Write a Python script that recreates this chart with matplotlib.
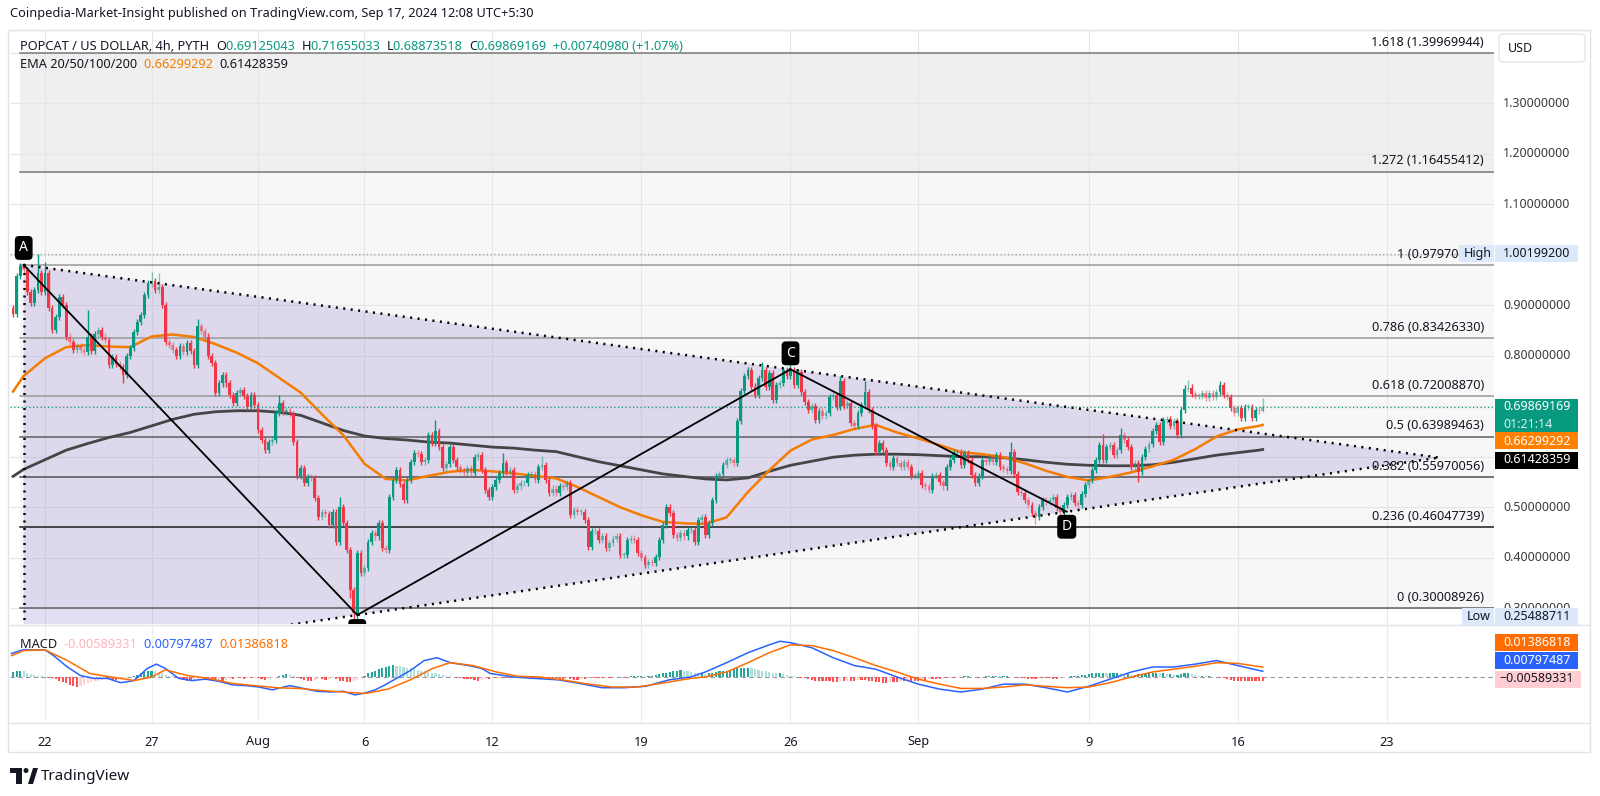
import matplotlib
matplotlib.use("Agg")
import matplotlib.pyplot as plt
import numpy as np
from matplotlib.patches import Rectangle, FancyBboxPatch, Polygon, Ellipse

plt.rcParams['font.family'] = ['Noto Sans', 'DejaVu Sans']

# ---------------- data ----------------
# 4h candles, time in days counted from Jul 22 00:00
candle_start_day = -1.5
first_open = 0.895
closes = [
    0.882, 0.957, 0.978, 0.970, 0.927, 0.904, 0.930, 0.963, 0.927,   # Jul 20-21
    0.963, 0.894, 0.851, 0.877, 0.917, 0.901,   # Jul 22
    0.838, 0.828, 0.811, 0.820, 0.812, 0.808,
    0.838, 0.810, 0.843, 0.851, 0.838, 0.832,
    0.782, 0.798, 0.784, 0.778, 0.762, 0.800,
    0.815, 0.847, 0.867, 0.880, 0.920, 0.943,
    0.947, 0.930, 0.936, 0.900, 0.828, 0.821,   # Jul 27
    0.812, 0.800, 0.820, 0.808, 0.825, 0.810,
    0.782, 0.858, 0.848, 0.838, 0.800, 0.785,
    0.726, 0.745, 0.762, 0.745, 0.722, 0.706,
    0.726, 0.732, 0.720, 0.699, 0.722, 0.702,
    0.653, 0.633, 0.613, 0.630, 0.634, 0.686,   # Aug 1
    0.706, 0.688, 0.693, 0.685, 0.630, 0.561,
    0.577, 0.547, 0.560, 0.557, 0.518, 0.481,
    0.490, 0.487, 0.465, 0.491, 0.432, 0.500,
    0.468, 0.416, 0.336, 0.290, 0.410, 0.369,
    0.380, 0.432, 0.448, 0.442, 0.468, 0.420,   # Aug 6
    0.415, 0.521, 0.554, 0.574, 0.546, 0.515,
    0.554, 0.590, 0.607, 0.605, 0.590, 0.594,
    0.643, 0.627, 0.650, 0.620, 0.577, 0.585,
    0.620, 0.594, 0.580, 0.574, 0.567, 0.577,
    0.567, 0.600, 0.603, 0.574, 0.534, 0.521,
    0.540, 0.554, 0.567, 0.587, 0.570, 0.574,   # Aug 12
    0.534, 0.541, 0.547, 0.548, 0.564, 0.565,
    0.554, 0.580, 0.584, 0.554, 0.528, 0.537,
    0.528, 0.541, 0.540, 0.547, 0.485, 0.494,
    0.491, 0.491, 0.475, 0.422, 0.452, 0.452,
    0.435, 0.442, 0.419, 0.429, 0.438, 0.442,
    0.405, 0.405, 0.435, 0.438, 0.435, 0.409,
    0.399, 0.386, 0.392, 0.389, 0.402, 0.435,   # Aug 19
    0.465, 0.500, 0.488, 0.445, 0.439, 0.448,
    0.442, 0.455, 0.455, 0.432, 0.475, 0.481,
    0.445, 0.468, 0.514, 0.561, 0.565, 0.584,
    0.594, 0.594, 0.587, 0.670, 0.730, 0.759,
    0.772, 0.739, 0.722, 0.755, 0.772, 0.739,
    0.765, 0.713, 0.742, 0.746, 0.772, 0.760,
    0.772, 0.742, 0.768, 0.729, 0.709, 0.693,   # Aug 26
    0.700, 0.673, 0.690, 0.680, 0.687, 0.719,
    0.722, 0.699, 0.750, 0.700, 0.706, 0.666,
    0.660, 0.686, 0.703, 0.729, 0.693, 0.660,
    0.610, 0.627, 0.614, 0.587, 0.580, 0.597,
    0.587, 0.580, 0.590, 0.580, 0.561, 0.561,
    0.567, 0.544, 0.541, 0.535, 0.561, 0.564,   # Sep 1
    0.550, 0.541, 0.580, 0.594, 0.607, 0.610,
    0.584, 0.607, 0.594, 0.564, 0.547, 0.561,
    0.593, 0.590, 0.600, 0.590, 0.603, 0.580,
    0.575, 0.572, 0.610, 0.565, 0.530, 0.529,
    0.514, 0.504, 0.488, 0.481, 0.501, 0.514,
    0.511, 0.514, 0.521, 0.498, 0.491, 0.504,
    0.521, 0.524, 0.508, 0.504, 0.527, 0.544,
    0.554, 0.574, 0.593, 0.623, 0.594, 0.620,   # Sep 9
    0.623, 0.603, 0.613, 0.643, 0.633, 0.620,
    0.580, 0.587, 0.570, 0.600, 0.616, 0.626,
    0.650, 0.663, 0.630, 0.673, 0.675, 0.660,
    0.670, 0.643, 0.693, 0.735, 0.737, 0.725,
    0.720, 0.720, 0.726, 0.716, 0.726, 0.719,
    0.729, 0.742, 0.722, 0.719, 0.696, 0.686,
    0.696, 0.676, 0.699, 0.699, 0.676, 0.693,   # Sep 16
    0.691, 0.69869169,
]
wick_highs = {7: 1.002, 9: 0.986, 21: 0.891, 39: 0.965, 41: 0.963, 52: 0.873,
              75: 0.722, 92: 0.52, 119: 0.673, 138: 0.607, 149: 0.602,
              211: 0.788, 219: 0.80, 233: 0.76, 240: 0.749, 281: 0.63,
              307: 0.645, 312: 0.656, 331: 0.752, 340: 0.749, 352: 0.71655033}
wick_lows = {31: 0.745, 95: 0.32, 96: 0.25488711, 97: 0.275, 288: 0.466,
             317: 0.55, 352: 0.68873518}

ema_days = [-1.5, -1] + list(range(0, 58)) + [57.17]
ema50 = [0.729, 0.760, 0.795, 0.817, 0.821, 0.818, 0.817, 0.838, 0.842, 0.837,
         0.823, 0.806, 0.785, 0.756, 0.727, 0.684, 0.643, 0.586, 0.556, 0.553,
         0.562, 0.570, 0.574, 0.571, 0.567, 0.562, 0.557, 0.540, 0.520, 0.500,
         0.484, 0.471, 0.468, 0.467, 0.480, 0.530, 0.573, 0.612, 0.634, 0.643,
         0.655, 0.663, 0.648, 0.636, 0.623, 0.609, 0.605, 0.599, 0.587, 0.572,
         0.560, 0.553, 0.560, 0.569, 0.581, 0.594, 0.615, 0.640, 0.654, 0.661,
         0.66299292]
ema200 = [0.561, 0.575, 0.594, 0.613, 0.626, 0.638, 0.648, 0.661, 0.674, 0.684,
          0.689, 0.691, 0.691, 0.688, 0.682, 0.667, 0.652, 0.641, 0.636, 0.633,
          0.629, 0.627, 0.623, 0.619, 0.617, 0.613, 0.610, 0.600, 0.590, 0.582,
          0.574, 0.566, 0.561, 0.556, 0.554, 0.558, 0.571, 0.583, 0.591, 0.599,
          0.603, 0.605, 0.605, 0.604, 0.602, 0.600, 0.600, 0.598, 0.594, 0.589,
          0.585, 0.583, 0.582, 0.582, 0.584, 0.589, 0.596, 0.603, 0.608, 0.613,
          0.61428359]

macd_days = [-1.57, -1.05, 0, 0.4, 1.05, 1.67, 2.3, 2.93, 3.56, 4.18, 4.8, 5.23, 5.65,
             6.28, 6.9, 7.53, 8.16, 8.8, 9.4, 10.04, 10.67, 11.5, 12.13, 12.76, 13.4,
             14.0, 14.54, 14.96, 15.5, 15.9, 16.5, 17.15, 17.8, 18.4, 19.04, 19.9,
             20.5, 20.9, 22, 23, 24.1, 25.1, 26.15, 27.2, 28.2, 29.3, 30.3, 31, 32,
             33, 34, 34.5, 35, 36, 37, 38, 39, 40, 41, 42, 43, 44, 45, 46, 47, 48,
             49, 50, 51, 52, 53, 54, 55, 56, 57.17]
macd_line = [0.033, 0.038, 0.038, 0.030, 0.014, 0.002, -0.002, -0.002, -0.008, -0.005,
             0.012, 0.018, 0.012, -0.002, -0.005, -0.003, -0.006, -0.011, -0.012,
             -0.014, -0.018, -0.012, -0.016, -0.020, -0.021, -0.020, -0.025, -0.023,
             -0.018, -0.012, -0.002, 0.009, 0.023, 0.027, 0.020, 0.016, 0.012, 0.005,
             0.0, -0.002, -0.004, -0.009, -0.015, -0.015, -0.013, -0.004, 0.0, 0.007,
             0.020, 0.034, 0.045, 0.050, 0.048, 0.041, 0.027, 0.016, 0.011, 0.0,
             -0.010, -0.017, -0.021, -0.017, -0.010, -0.010, -0.015, -0.021, -0.013,
             -0.003, 0.007, 0.014, 0.014, 0.018, 0.023, 0.016, 0.00797487]
signal_days = [-1.57, -1.0, 0, 1.05, 2.1, 3.1, 4.2, 5.0, 5.65, 6.7, 7.7, 8.8, 9.8,
               10.9, 11.9, 13.0, 14.0, 15.06, 16.1, 17.15, 18.2, 19.0, 20.1, 21.2,
               22.2, 23.2, 24.3, 25.3, 26.6, 27.8, 28.9, 30.3, 31, 32, 33, 34, 35, 36,
               37, 38, 39, 40, 41, 42, 43, 44, 45, 46, 47, 48, 49, 50, 51, 52, 53, 54,
               55, 56, 57.17]
signal_line = [0.030, 0.037, 0.038, 0.023, 0.005, 0.0, -0.005, 0.0, 0.010, 0.002,
               -0.002, -0.009, -0.012, -0.015, -0.016, -0.019, -0.021, -0.023, -0.017,
               -0.004, 0.012, 0.020, 0.016, 0.007, 0.001, 0.0, -0.004, -0.009, -0.014,
               -0.014, -0.009, -0.002, 0.0, 0.007, 0.020, 0.034, 0.045, 0.044, 0.037,
               0.027, 0.016, 0.007, -0.003, -0.010, -0.016, -0.016, -0.014, -0.011,
               -0.013, -0.015, -0.014, -0.008, 0.0, 0.007, 0.011, 0.015, 0.020, 0.019,
               0.01386818]
# histogram, one value per candle, in thousandths
macd_hist = [
    7, 8, 9, 8, 6, 4, 3, 2, 1,
    0, -1, -2, -3, -5, -7,   -9, -11, -13, -14, -13, -11,
    -9, -7, -6, -5, -4, -3,   -3, -4, -4, -3, -2, -1,
    0, 1, 3, 5, 7, 8,   9, 8, 6, 5, 3, 2,
    1, -1, -3, -4, -5, -5,   -4, -3, -2, -3, -4, -5,
    -6, -5, -5, -4, -3, -3,   -2, -2, -3, -2, -2, -1,
    -2, -3, -4, -3, -2, -1,   1, 3, 4, 3, 1, -1,
    -3, -4, -5, -5, -4, -3,   -3, -4, -3, -2, -3, -5,
    -6, -7, -7, -6, -4, -1,   2, 5, 7, 9, 11, 12,
    14, 16, 17, 16, 15, 14,   13, 12, 11, 10, 9, 8,
    7, 6, 5, 4, 3, 2,   1, 0, -1, -2, -3, -3,
    -3, -4, -5, -4, -3, -3,   -2, -2, -1, -1, -2, -2,
    -1, 0, 1, 1, 0, -1,   -1, -2, -2, -1, -1, -2,
    -2, -3, -3, -2, -3, -4,   -4, -3, -3, -2, -2, -2,
    -2, -2, -1, -1, 0, 0,   0, -1, 0, 1, 1, 2,
    2, 1, 1, 2, 3, 4,   5, 6, 7, 8, 9, 10,
    9, 8, 7, 6, 5, 5,   4, 5, 6, 7, 8, 8,
    9, 10, 11, 12, 12, 13,   13, 12, 11, 10, 9, 8,
    7, 6, 5, 5, 4, 3,   2, 1, 0, -1, -2, -3,
    -4, -5, -5, -6, -6, -6,   -7, -7, -6, -6, -5, -5,
    -5, -4, -4, -4, -5, -6,   -7, -7, -8, -8, -7, -7,
    -7, -6, -6, -5, -5, -5,   -5, -4, -4, -3, -3, -3,
    -3, -2, -2, -1, -1, 0,   0, 1, 1, 0, 0, -1,
    0, 1, 2, 2, 2, 1,   1, 1, 0, 0, -1, -2,
    -2, -3, -3, -3, -2, -2,   -2, -2, -3, -3, -2, -1,
    0, 1, 1, 2, 3, 3,   4, 5, 6, 6, 6, 5,
    5, 6, 6, 5, 4, 4,   3, 3, 4, 4, 5, 6,
    6, 6, 5, 5, 4, 4,   3, 3, 4, 5, 5, 4,
    3, 2, 2, 1, 1, 0,   0, -1, -2, -3, -4, -5,
    -5, -6, -6, -6, -6, -6,   -6, -6,
]

fib_ratios = ['1.618', '1.272', '1', '0.786', '0.618', '0.5', '0.382', '0.236', '0']
fib_prices = [1.39969944, 1.16455412, 0.97970200, 0.83426330, 0.72008870,
              0.63989463, 0.55970056, 0.46047739, 0.30008926]
fib_line_colors = ['#787878', '#787878', '#9a9a9a', '#9a9a9a', '#9a9a9a',
                   '#5f5f5f', '#4f4f4f', '#1e1e1e', '#5f5f5f']
fib_start_day = -1.17

pattern_names = ['A', 'B', 'C', 'D']
pattern_days = [-1.0, 14.66, 35.0, 47.97]
pattern_prices = [0.9797, 0.2865, 0.773, 0.491]

date_days = [0, 5, 10, 15, 21, 28, 35, 41, 49, 56, 63]
date_labels = ['22', '27', 'Aug', '6', '12', '19', '26', 'Sep', '9', '16', '23']
# scale values that the reference shows (others sit under the coloured labels)
price_ticks = [0.3, 0.4, 0.5, 0.8, 0.9, 1.1, 1.2, 1.3]
grid_prices = [0.3, 0.4, 0.5, 0.6, 0.7, 0.8, 0.9, 1.0, 1.1, 1.2, 1.3, 1.4]

last_price = 0.69869169
high_price = 1.00199200
low_price = 0.25488711

# ---------------- layout ----------------
W, H = 1600, 796
fig = plt.figure(figsize=(16, 7.96), dpi=100)
fig.patch.set_facecolor('white')

L, R = 10, 1494
P_TOP, P_BOT = 30, 624
M_TOP, M_BOT = 625, 722

def rect(x0, y0, x1, y1):
    return [x0 / W, 1 - y1 / H, (x1 - x0) / W, (y1 - y0) / H]

ax = fig.add_axes(rect(L, P_TOP, R, P_BOT))
axm = fig.add_axes(rect(L, M_TOP, R, M_BOT))
for a in (ax, axm):
    a.set_axis_off()
    a.set_xlim((L - 45) / 21.3, (R - 45) / 21.3)
ax.set_ylim(0.4 - (P_BOT - 557.7) / 505, 0.4 + (557.7 - P_TOP) / 505)
axm.set_ylim(-(M_BOT - 677) * 0.0014, (677 - M_TOP) * 0.0014)

x_lo, x_hi = ax.get_xlim()
TXT = '#131722'

# fib zones and levels
zone_colors = ['#efefef'] + ['#f7f7f7'] * 7
for k in range(len(fib_prices) - 1):
    ax.add_patch(Rectangle((fib_start_day, fib_prices[k + 1]), x_hi - fib_start_day,
                           fib_prices[k] - fib_prices[k + 1], fc=zone_colors[k], ec='none', zorder=0.5))

for p in grid_prices:
    ax.axhline(p, color='#e6e6e6', lw=0.8, zorder=0.8)
for d in date_days:
    ax.axvline(d, color='#e6e6e6', lw=0.8, zorder=0.8)
    axm.axvline(d, color='#ececec', lw=0.8, zorder=0.8)

for r, p, c in zip(fib_ratios, fib_prices, fib_line_colors):
    ax.plot([fib_start_day, x_hi], [p, p], color=c, lw=1.1, zorder=2)
    if r == '1':
        # the rest of this label sits under the "High" marker
        txt, xr = '1 (0.97970', 0.9764
    else:
        txt, xr = '%s (%.8f)' % (r, p), 0.9933
    ax.annotate(txt, xy=(xr, p), xycoords=('axes fraction', 'data'),
                xytext=(0, 3), textcoords='offset points', ha='right', va='bottom',
                fontsize=9.2, color=TXT, zorder=6)

# triangle pattern
aD, bD, cD, dD = pattern_days
aP, bP, cP, dP = pattern_prices
s_up = (cP - aP) / (cD - aD)
s_lo = (dP - bP) / (dD - bD)
apex_d = (bP - s_lo * bD - aP + s_up * aD) / (s_up - s_lo)
apex_p = aP + s_up * (apex_d - aD)
low_at_a = bP + s_lo * (aD - bD)
ax.add_patch(Polygon([(aD, aP), (apex_d, apex_p), (aD, low_at_a)], closed=True,
                     fc='#8c74c8', alpha=0.23, ec='none', zorder=1.5))
dot = dict(color='black', lw=1.8, linestyle=(0, (0.8, 2.2)), zorder=5)
ax.plot([aD, apex_d], [aP, apex_p], **dot)
ax.plot([aD, apex_d], [low_at_a, apex_p], **dot)
ax.plot([aD, aD], [aP, low_at_a], **dot)
ax.plot(pattern_days, pattern_prices, color='black', lw=1.3, zorder=5)

# EMAs
ax.plot(ema_days, ema200, color='#454545', lw=2.0, zorder=3)
ax.plot(ema_days, ema50, color='#f57c00', lw=1.8, zorder=3)

# candles
n = len(closes)
t = candle_start_day + np.arange(n) / 6.0
opens = np.array([first_open] + closes[:-1])
cl = np.array(closes)
hi = np.maximum(opens, cl) + 0.006
lo = np.minimum(opens, cl) - 0.006
for i, v in wick_highs.items():
    hi[i] = v
for i, v in wick_lows.items():
    lo[i] = v
up = cl >= opens
strong = np.abs(cl - opens) >= 0.012
cols = []
for u, s in zip(up, strong):
    base = (0.031, 0.6, 0.506) if u else (0.949, 0.212, 0.271)
    cols.append(base + ((1.0,) if s else (0.5,)))
ax.vlines(t, lo, hi, colors=cols, lw=1.0, zorder=4)
ax.bar(t, np.maximum(np.abs(cl - opens), 0.0018), bottom=np.minimum(opens, cl),
       width=0.13, color=cols, zorder=4.1)

# last price / high lines
ax.axhline(last_price, color='#089981', lw=0.9, linestyle=(0, (1, 2)), zorder=4.5)
ax.axhline(high_price, color='#9598a1', lw=0.9, linestyle=(0, (1, 2)), zorder=4.5)

# pattern labels
label_off = [17, -16, 16, -15]
for name, d, p, off in zip(pattern_names, pattern_days, pattern_prices, label_off):
    ax.annotate(name, xy=(d, p), xytext=(0, off * 0.72), textcoords='offset points',
                ha='center', va='center', color='white', fontsize=10, zorder=7,
                annotation_clip=False, clip_on=True,
                bbox=dict(boxstyle='round,pad=0.32,rounding_size=0.3', fc='black', ec='none'))

# MACD pane
hist = np.array(macd_hist) / 1000.0
hcols = []
for i, v in enumerate(hist):
    prev = hist[i - 1] if i else v
    if v >= 0:
        hcols.append('#26a69a' if v >= prev else '#b2dfdb')
    else:
        hcols.append('#ff5252' if v <= prev else '#ffcdd2')
axm.bar(t, hist, width=0.1, color=hcols, zorder=2)
axm.axhline(0, color='#9598a1', lw=0.8, linestyle=(0, (4, 3)), zorder=1.5)
axm.plot(macd_days, macd_line, color='#2962ff', lw=1.1, zorder=3)
axm.plot(signal_days, signal_line, color='#ff6d00', lw=1.1, zorder=3)

# ---------------- texts ----------------
renderer = fig.canvas.get_renderer()

def seq_text(x, y, parts, size=9.2):
    for s, c in parts:
        tt = fig.text(x / W, 1 - y / H, s, color=c, fontsize=size, va='center', ha='left')
        x += tt.get_window_extent(renderer).width

def ypix(axis, v):
    return H - axis.transData.transform((0, v))[1]

def box(x0, x1, yc, h, fc, ec='none', z=5):
    fig.add_artist(Rectangle((x0 / W, 1 - (yc + h / 2) / H), (x1 - x0) / W, h / H,
                             transform=fig.transFigure, fc=fc, ec=ec, lw=0.8, zorder=z))

fig.text(10 / W, 1 - 14 / H,
         'Coinpedia-Market-Insight published on TradingView.com, Sep 17, 2024 12:08 UTC+5:30',
         fontsize=9.2, color=TXT, va='center')
G = '#089981'
seq_text(20, 47, [('POPCAT / US DOLLAR, 4h, PYTH  ', TXT), ('O', TXT), ('0.69125043  ', G),
                  ('H', TXT), ('0.71655033  ', G), ('L', TXT), ('0.68873518  ', G),
                  ('C', TXT), ('0.69869169  +0.00740980 (+1.07%)', G)])
seq_text(20, 65, [('EMA 20/50/100/200  ', TXT), ('0.66299292  ', '#f57c00'), ('0.61428359', TXT)])
seq_text(20, 645, [('MACD  ', TXT), ('-0.00589331  ', '#ffb3ba'), ('0.00797487  ', '#2962ff'),
                   ('0.01386818', '#ff6d00')])

# chart frame and separators
fig.add_artist(Rectangle((8 / W, 1 - 752 / H), 1582 / W, 722 / H, transform=fig.transFigure,
                         fc='none', ec='#e0e3eb', lw=1, zorder=1))
fig.add_artist(plt.Line2D([8 / W, 1590 / W], [1 - 624.5 / H] * 2, color='#e0e3eb', lw=1))
fig.add_artist(plt.Line2D([8 / W, 1590 / W], [1 - 722.5 / H] * 2, color='#e0e3eb', lw=1))

# price scale
for p in price_ticks:
    fig.text(1503 / W, 1 - ypix(ax, p) / H, '%.8f' % p, fontsize=9, color='#3b3b3b',
             va='center', ha='left', zorder=3)
usd = FancyBboxPatch((1499 / W, 1 - 62 / H), 86 / W, 28 / H, transform=fig.transFigure,
                     boxstyle='round,pad=0,rounding_size=0.004', fc='white', ec='#e0e3eb',
                     lw=0.9, zorder=5)
fig.add_artist(usd)
fig.text(1508 / W, 1 - 48 / H, 'USD', fontsize=9, color=TXT, va='center', zorder=6)

yh = ypix(ax, high_price)
box(1459, 1494, yh, 17, '#dce9fb')
box(1495, 1578, yh, 17, '#dce9fb')
fig.text(1464 / W, 1 - yh / H, 'High', fontsize=9, color=TXT, va='center', zorder=6)
fig.text(1503 / W, 1 - yh / H, '%.8f' % high_price, fontsize=9, color=TXT, va='center', zorder=6)

box(1462, 1494, 616, 17, '#dce9fb')
box(1495, 1578, 616, 17, '#dce9fb')
fig.text(1467 / W, 1 - 616 / H, 'Low', fontsize=9, color=TXT, va='center', zorder=6)
fig.text(1503 / W, 1 - 616 / H, '%.8f' % low_price, fontsize=9, color=TXT, va='center', zorder=6)

box(1495, 1578, 415.5, 33, '#089981')
fig.text(1503 / W, 1 - 407 / H, '%.8f' % last_price, fontsize=9, color='white', va='center',
         fontweight='bold', zorder=6)
fig.text(1503 / W, 1 - 424 / H, '01:21:14', fontsize=9, color='#d9f2ee', va='center',
         fontweight='bold', zorder=6)
box(1495, 1578, 441, 17, '#ff7f00')
fig.text(1503 / W, 1 - 441 / H, '0.66299292', fontsize=9, color='white', va='center',
         fontweight='bold', zorder=6)
box(1495, 1578, 460, 17, '#000000')
fig.text(1503 / W, 1 - 460 / H, '0.61428359', fontsize=9, color='white', va='center',
         fontweight='bold', zorder=6)

# MACD scale labels
box(1495, 1578, 642, 17, '#ff6d00')
fig.text(1503 / W, 1 - 642 / H, '0.01386818', fontsize=9, color='white', va='center', zorder=6)
box(1495, 1578, 660, 17, '#2962ff')
fig.text(1503 / W, 1 - 660 / H, '0.00797487', fontsize=9, color='white', va='center', zorder=6)
box(1495, 1581, 679, 17, '#ffcdd2')
fig.text(1499 / W, 1 - 679 / H, '\u22120.00589331', fontsize=9, color=TXT, va='center', zorder=6)

# time axis
for d, lab in zip(date_days, date_labels):
    xp = ax.transData.transform((d, 0))[0]
    fig.text(xp / W, 1 - 742 / H, lab, fontsize=9.2, color=TXT, ha='center', va='center',
             fontweight='bold' if lab in ('Aug', 'Sep') else 'normal')

# TradingView logo
logo = '#131722'
fig.add_artist(Rectangle((10 / W, 1 - 773 / H), 12 / W, 5 / H, transform=fig.transFigure, fc=logo, ec='none'))
fig.add_artist(Rectangle((16 / W, 1 - 784 / H), 6 / W, 16 / H, transform=fig.transFigure, fc=logo, ec='none'))
fig.add_artist(Ellipse((26 / W, 1 - 770.5 / H), 5 / W, 5 / H, transform=fig.transFigure,
                       fc=logo, ec='none'))
fig.add_artist(Polygon([(28 / W, 1 - 784 / H), (33 / W, 1 - 768 / H), (38 / W, 1 - 768 / H),
                        (33 / W, 1 - 784 / H)], closed=True, transform=fig.transFigure,
                       fc=logo, ec='none'))
fig.text(41 / W, 1 - 776 / H, 'TradingView', fontsize=11, color=TXT, va='center')

fig.savefig('out.png', dpi=100, facecolor='white')
